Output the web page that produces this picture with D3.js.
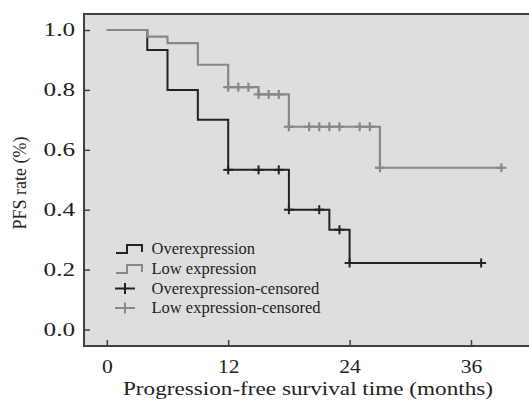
<!DOCTYPE html>
<html>
<head>
<meta charset="utf-8">
<script src="https://cdn.jsdelivr.net/npm/d3@7"></script>
<style>
  body { margin: 0; background: #fff; }
  svg { display: block; font-family: "Liberation Serif", "Times New Roman", serif; }
</style>
</head>
<body>
<script>
// ---- data ----
// step curves: time (months) where survival drops, and the level after the drop
var overTimes = [0, 4, 6, 9, 12, 18, 22, 24, 37];
var overSurv  = [1, 0.933, 0.8, 0.7, 0.533, 0.4, 0.333, 0.222, 0.222];
var overCensored = [12, 15, 17, 18, 21, 23, 24, 37];

var lowTimes = [0, 4, 6, 9, 12, 15, 18, 27, 39];
var lowSurv  = [1, 0.978, 0.956, 0.884, 0.809, 0.785, 0.677, 0.54, 0.54];
var lowCensored = [12, 13, 14, 15, 16, 17, 18, 20, 21, 22, 23, 25, 26, 27, 39];

var xTicks = [0, 12, 24, 36];
var yTicks = [0, 0.2, 0.4, 0.6, 0.8, 1.0];
var legendLabels = ["Overexpression", "Low expression", "Overexpression-censored", "Low expression-censored"];

// ---- layout ----
var W = 529, H = 402;
var frame = {left: 84, top: 14, right: 531, bottom: 346};
var black = "#222", grey = "#888";

var x = d3.scaleLinear().domain([0, 36]).range([106.8, 471]);
var y = d3.scaleLinear().domain([0, 1]).range([329.5, 30]);

var svg = d3.select("body").append("svg")
    .attr("width", W)
    .attr("height", H);

// plot background and frame
svg.append("rect")
    .attr("x", frame.left)
    .attr("y", frame.top)
    .attr("width", frame.right - frame.left)
    .attr("height", frame.bottom - frame.top)
    .attr("fill", "#dedede")
    .attr("stroke", "#404040")
    .attr("stroke-width", 2);

// axes, ticks pointing inward
var yAxis = svg.append("g")
    .attr("transform", "translate(" + frame.left + ",0)")
    .call(d3.axisLeft(y).tickValues(yTicks).tickSize(-6).tickFormat(d3.format(".1f")));

var xAxis = svg.append("g")
    .attr("transform", "translate(0," + frame.bottom + ")")
    .call(d3.axisBottom(x).tickValues(xTicks).tickSize(-6).tickPadding(14));

[xAxis, yAxis].forEach(function(g) {
  g.select(".domain").remove();
  g.selectAll(".tick line").attr("stroke", "#404040").attr("stroke-width", 1.5);
  g.selectAll(".tick text")
    .attr("fill", "#222")
    .style("font-size", "18px")
    .style("font-family", "'Liberation Serif', serif");
});

// the printed labels are a little wider than plain Times
var yStretch = 1.4, xStretch = 1.2;
yAxis.selectAll(".tick text")
    .attr("x", -9 / yStretch)
    .attr("transform", "scale(" + yStretch + ",1)");
xAxis.selectAll(".tick text")
    .attr("transform", "scale(" + xStretch + ",1)");

// ---- curves ----
function survAt(times, surv, t) {
  var i = d3.bisectRight(times, t) - 1;
  return surv[Math.max(0, i)];
}

var line = d3.line()
    .x(function(d) { return x(d[0]); })
    .y(function(d) { return y(d[1]); })
    .curve(d3.curveStepAfter);

function drawCurve(times, surv, censored, color, width) {
  var pts = times.map(function(t, i) { return [t, surv[i]]; });
  svg.append("path")
      .attr("d", line(pts))
      .attr("fill", "none")
      .attr("stroke", color)
      .attr("stroke-width", width);

  var marks = svg.append("g")
      .attr("stroke", color)
      .attr("stroke-width", width);
  censored.forEach(function(t) {
    var cx = x(t), cy = y(survAt(times, surv, t));
    marks.append("line")
        .attr("x1", cx - 5).attr("x2", cx + 5)
        .attr("y1", cy).attr("y2", cy);
    marks.append("line")
        .attr("x1", cx).attr("x2", cx)
        .attr("y1", cy - 4.5).attr("y2", cy + 4.5);
  });
}

drawCurve(overTimes, overSurv, overCensored, black, 2);
drawCurve(lowTimes, lowSurv, lowCensored, grey, 2.2);

// ---- legend ----
var legendY = [249, 269, 288.5, 308];
var legendColors = [black, grey, black, grey];
var legend = svg.append("g");

legendLabels.forEach(function(label, i) {
  var yc = legendY[i];
  if (i < 2) {
    legend.append("path")
        .attr("d", "M116," + (yc + 4) + "H127V" + (yc - 4) + "H142V" + (yc + 3))
        .attr("fill", "none")
        .attr("stroke", legendColors[i])
        .attr("stroke-width", 2);
  } else {
    legend.append("line")
        .attr("x1", 115).attr("x2", 135).attr("y1", yc).attr("y2", yc)
        .attr("stroke", legendColors[i]).attr("stroke-width", 2);
    legend.append("line")
        .attr("x1", 125).attr("x2", 125).attr("y1", yc - 5.5).attr("y2", yc + 5.5)
        .attr("stroke", legendColors[i]).attr("stroke-width", 2);
  }
  legend.append("text")
      .attr("x", 151.5)
      .attr("y", yc + 5)
      .attr("fill", "#222")
      .style("font-size", "16.5px")
      .text(label);
});

// ---- axis titles ----
svg.append("text")
    .attr("transform", "translate(308,395) scale(1.22,1)")
    .attr("text-anchor", "middle")
    .attr("fill", "#222")
    .style("font-size", "19px")
    .text("Progression-free survival time (months)");

svg.append("text")
    .attr("transform", "translate(26,183) rotate(-90)")
    .attr("text-anchor", "middle")
    .attr("fill", "#222")
    .style("font-size", "18px")
    .text("PFS rate (%)");
</script>
</body>
</html>
